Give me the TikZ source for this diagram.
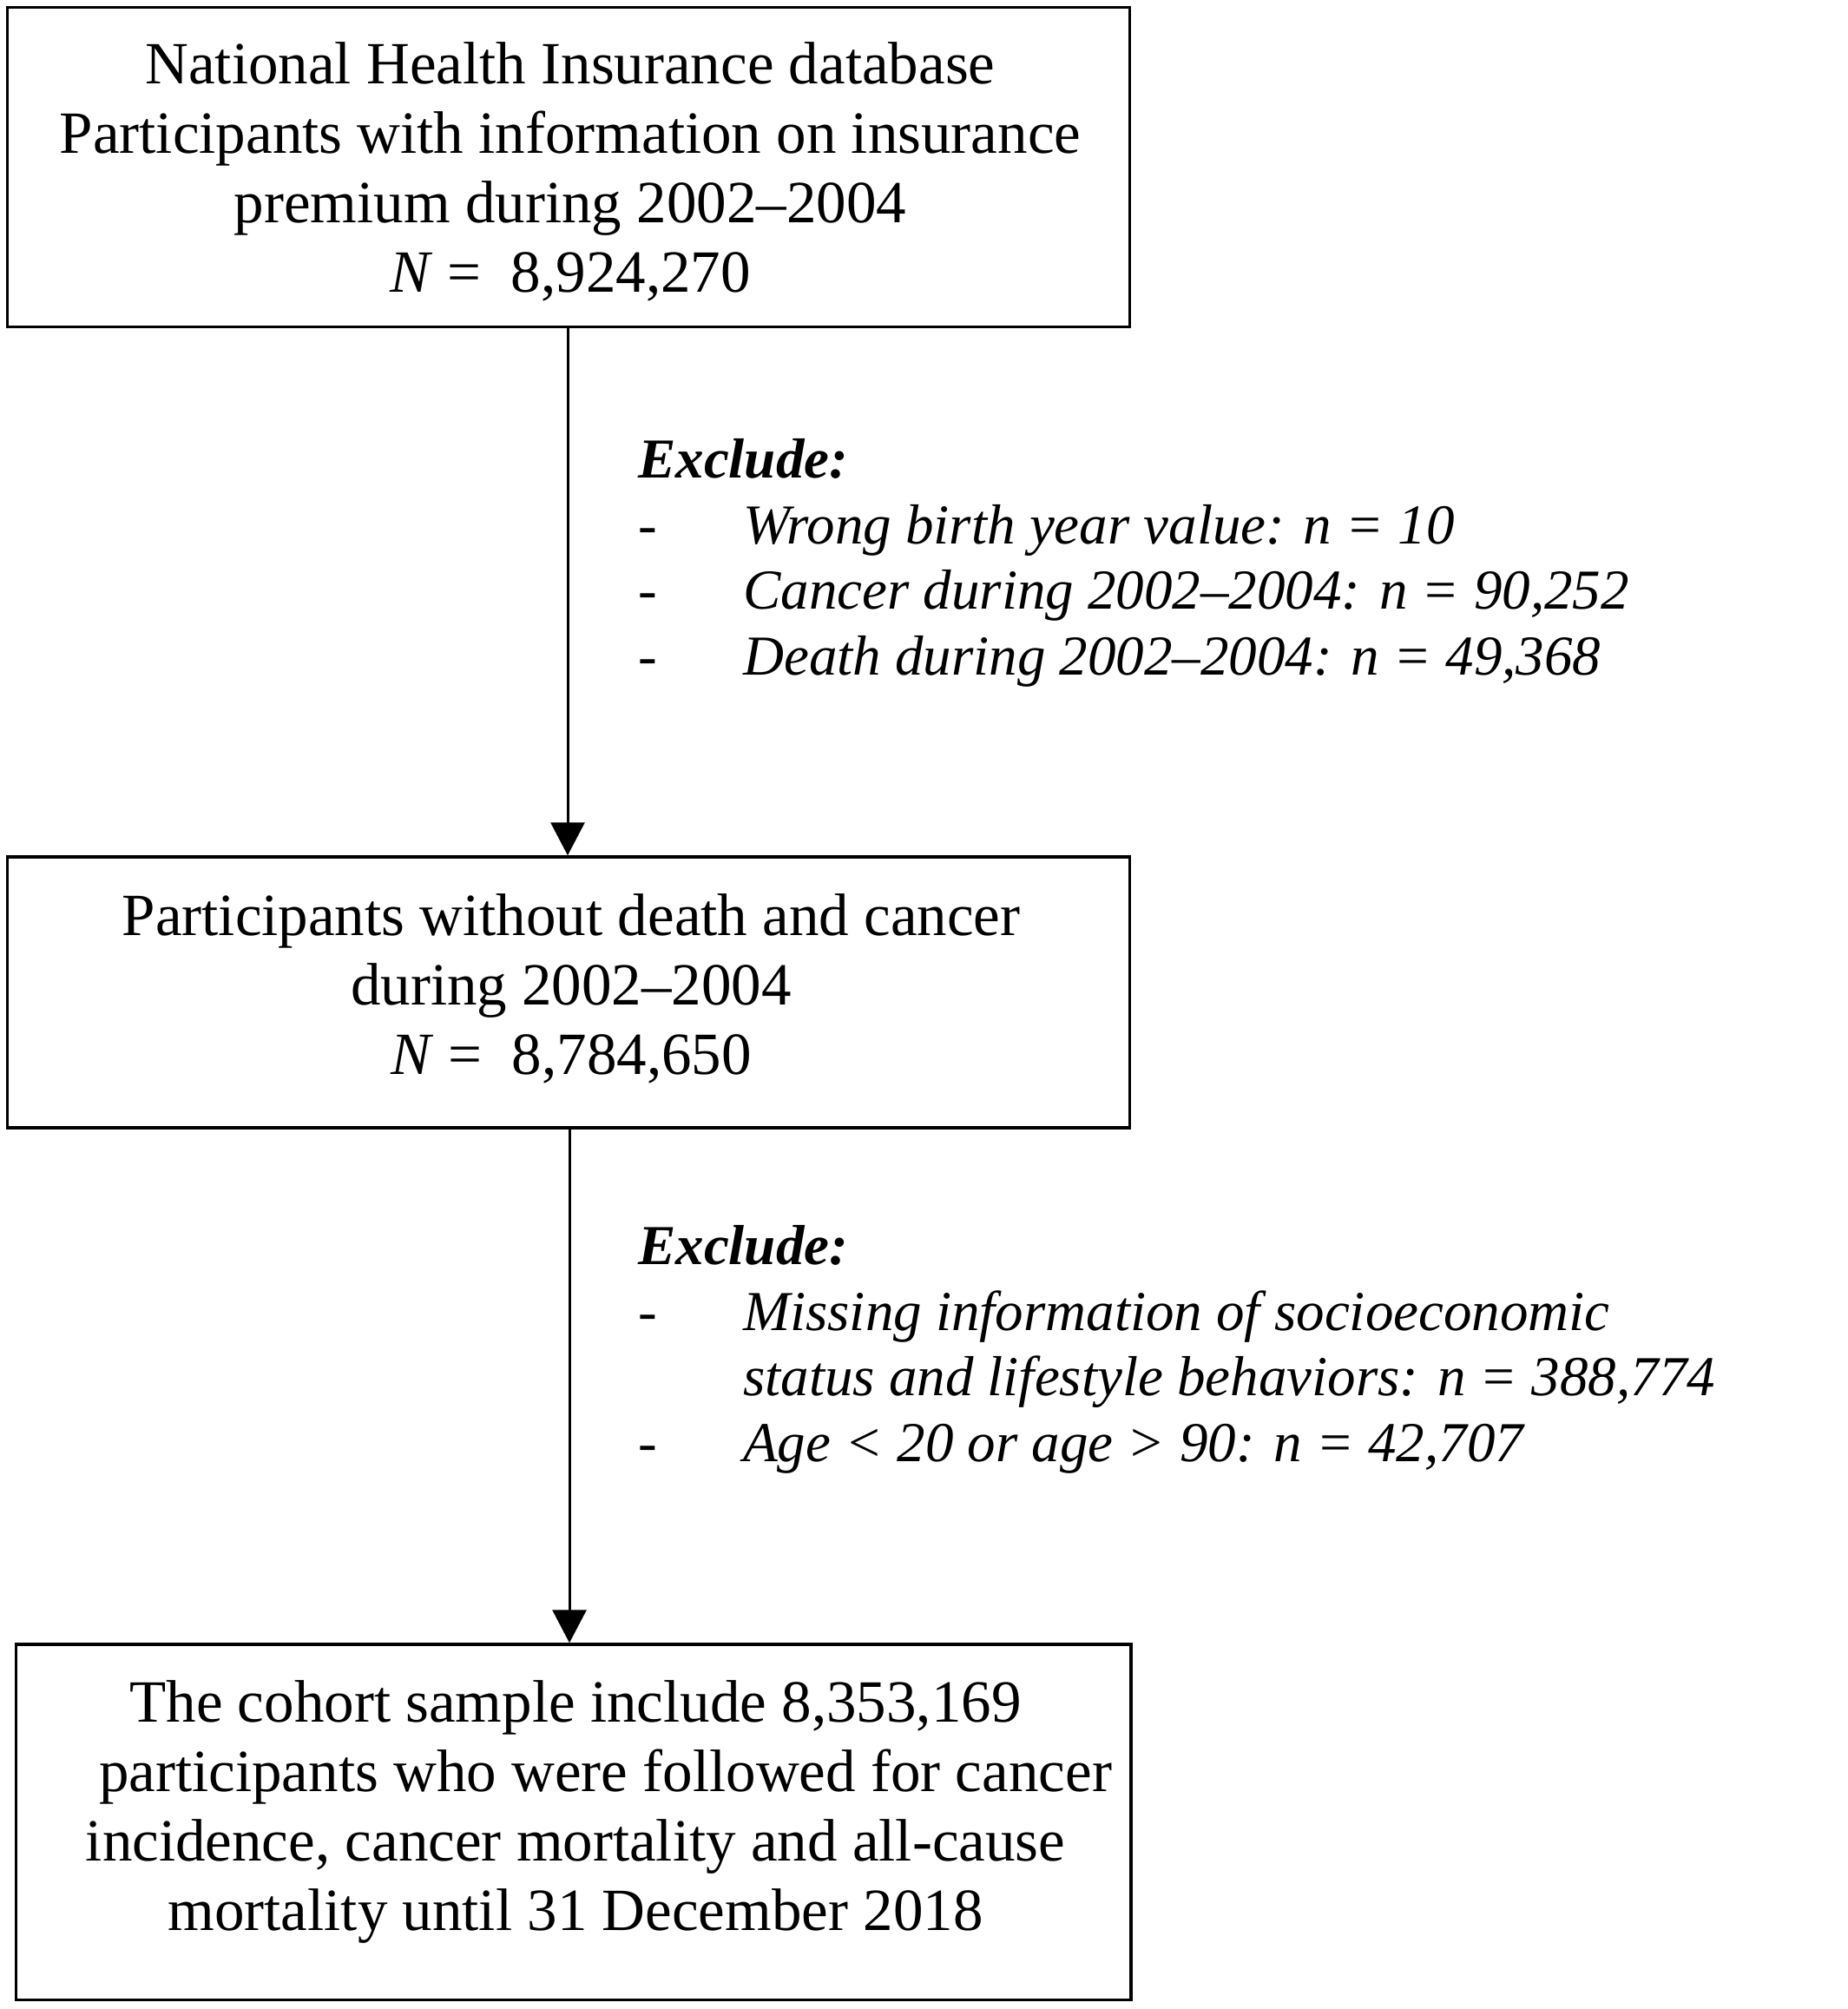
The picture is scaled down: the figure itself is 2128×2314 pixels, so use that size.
\documentclass[tikz,border=0pt]{standalone}
\usepackage{fontspec}
\setmainfont{Liberation Serif}
\usetikzlibrary{arrows.meta}
\newcommand{\exdash}{\makebox[121pt][l]{-}}
\newcommand{\exind}{\hspace*{121pt}}
\begin{document}
\begin{tikzpicture}[x=1pt,y=-1pt,
  box/.style={draw,line width=3.5pt,inner sep=0pt,rectangle},
  boxtext/.style={align=center,anchor=base,inner sep=0pt,font=\fontsize{69}{80}\selectfont},
  extext/.style={align=left,anchor=base west,inner sep=0pt,font=\fontsize{65}{75.5}\selectfont},
  arr/.style={line width=3pt,-{Triangle[length=38pt,width=39pt]}}]
\useasboundingbox (0,0) rectangle (2128,2314);
\node[box,minimum width=1293pt,minimum height=368pt] (b1) at (655,192.5) {};
\node[box,minimum width=1293pt,minimum height=312pt] (b2) at (655,1143) {};
\node[box,minimum width=1284.5pt,minimum height=409.5pt] (b3) at (660.75,2098.75) {};
\node[boxtext] (t1) at (657,337) {National Health Insurance database\\Participants with information on insurance\\premium during 2002--2004\\\textit{N} = \ 8,924,270};
\node[boxtext] (t2) at (658,1237) {Participants without death and cancer\\during 2002--2004\\\textit{N} = \ 8,784,650};
\node[boxtext] (t3) at (663,2223) {The cohort sample include 8,353,169\\\hspace*{1em}participants who were followed for cancer\\incidence, cancer mortality and all-cause\\mortality until 31 December 2018};
\node[extext] (e1) at (735,777) {\textbf{\textit{Exclude:}}\\\exdash\textit{Wrong birth year value: n = 10}\\\exdash\textit{Cancer during 2002--2004: n = 90,252}\\\exdash\textit{Death during 2002--2004: n = 49,368}};
\node[extext] (e2) at (735,1683) {\textbf{\textit{Exclude:}}\\\exdash\textit{Missing information of socioeconomic}\\\exind\textit{status and lifestyle behaviors: n = 388,774}\\\exdash\textit{Age < 20 or age > 90: n = 42,707}};
\draw[arr] ([xshift=-1pt]b1.south) -- ([xshift=-1pt]b1.south |- b2.north);
\draw[arr] ([xshift=1pt]b2.south) -- ([xshift=1pt]b2.south |- b3.north);
\end{tikzpicture}
\end{document}
